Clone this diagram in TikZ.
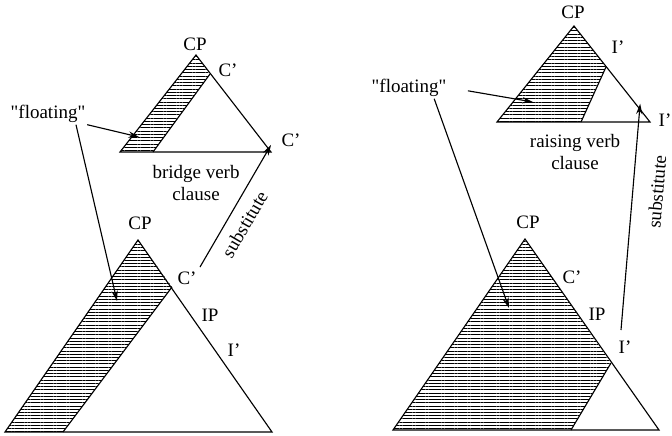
\documentclass[tikz,border=0pt]{standalone}
\usepackage{fontspec}
\setmainfont{Liberation Serif}
\usetikzlibrary{arrows.meta,patterns.meta}

\begin{document}
\begin{tikzpicture}[x=0.025cm,y=-0.025cm,line width=0.8pt,
    lbl/.style={font=\fontsize{13.5}{15}\selectfont,inner sep=1pt},
    hatch/.style={pattern={Lines[distance=2.3pt,line width=0.5pt]}},
    pointer/.style={-{Stealth[length=7.5pt,width=4.5pt]}}]
  \useasboundingbox (0,0) rectangle (672,435);
  % bridge verb clause
  \coordinate (bt) at (196,55);
  \coordinate (bl) at (120,152);
  \coordinate (br) at (271,152);
  \coordinate (bc) at (210,74);
  \coordinate (bs) at (153,152);
  \fill[hatch] (bt) -- (bc) -- (bs) -- (bl) -- cycle;
  \draw (bc) -- (bs);
  \draw (bt) -- (br) -- (bl) -- cycle;
  \node[lbl] (bcp) at (195,44) {CP};
  \node[lbl] (bcbar) at (228,70) {C'};
  \node[lbl] (bfoot) at (291,140) {C'};
  \node[lbl,align=center] (bname) at (196,183) {bridge verb\\clause};
  % lower tree, left
  \coordinate (lt) at (138,240);
  \coordinate (ll) at (5,432);
  \coordinate (lr) at (272,432);
  \coordinate (lc) at (172,287);
  \coordinate (ls) at (63,432);
  \fill[hatch] (lt) -- (lc) -- (ls) -- (ll) -- cycle;
  \draw (lc) -- (ls);
  \draw (lt) -- (lr) -- (ll) -- cycle;
  \node[lbl] (lcp) at (140,223) {CP};
  \node[lbl] (lcbar) at (187,278) {C'};
  \node[lbl] (lip) at (210,315) {IP};
  \node[lbl] (libar) at (234,350) {I'};
  % floating, left
  \node[lbl] (lfl) at (48,114) {\textquotedbl floating\textquotedbl};
  \coordinate (lfa) at (139,137);
  \coordinate (lfb) at (117,301);
  \draw[pointer] (lfl.south east) -- (lfa);
  \draw[pointer] ([xshift=-8]lfl.south east) -- (lfb);
  % substitute, left
  \coordinate (lsub) at (200,267);
  \draw[pointer] (lsub) -- node[lbl,sloped,below=6pt,pos=0.42] {substitute} ([yshift=5]br);
  % raising verb clause
  \coordinate (rt) at (574,26);
  \coordinate (rl) at (497,122);
  \coordinate (rr) at (650,122);
  \coordinate (rc) at (606,67);
  \coordinate (rs) at (581,122);
  \fill[hatch] (rt) -- (rc) -- (rs) -- (rl) -- cycle;
  \draw (rc) -- (rs);
  \draw (rt) -- (rr) -- (rl) -- cycle;
  \node[lbl] (rcp) at (573,12) {CP};
  \node[lbl] (ribar) at (618,47) {I'};
  \node[lbl] (rfoot) at (665,120) {I'};
  \node[lbl,align=center] (rname) at (575,152) {raising verb\\clause};
  % lower tree, right
  \coordinate (mt) at (525,239);
  \coordinate (ml) at (393,430);
  \coordinate (mr) at (659,430);
  \coordinate (mc) at (611,363);
  \coordinate (ms) at (571,430);
  \fill[hatch] (mt) -- (mc) -- (ms) -- (ml) -- cycle;
  \draw (mc) -- (ms);
  \draw (mt) -- (mr) -- (ml) -- cycle;
  \node[lbl] (mcp) at (528,222) {CP};
  \node[lbl] (mcbar) at (572,277) {C'};
  \node[lbl] (mip) at (597,314) {IP};
  \node[lbl] (mibar) at (625,347) {I'};
  % floating, right
  \node[lbl] (rfl) at (409,88) {\textquotedbl floating\textquotedbl};
  \coordinate (rfa) at (533,102);
  \coordinate (rfb) at (509,308);
  \draw[pointer] ([xshift=14,yshift=-2]rfl.east) -- (rfa);
  \draw[pointer] ([xshift=-10]rfl.south east) -- (rfb);
  % substitute, right
  \coordinate (rsub) at (621,330);
  \draw[pointer] (rsub) -- node[lbl,sloped,below=11pt,pos=0.62] {substitute} ([xshift=-7,yshift=13]rr);
\end{tikzpicture}
\end{document}
